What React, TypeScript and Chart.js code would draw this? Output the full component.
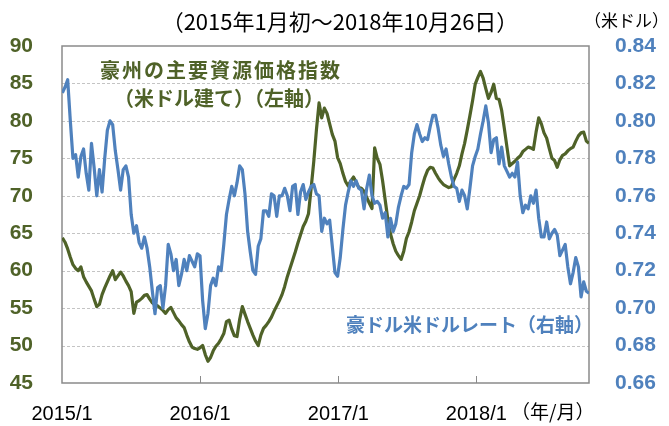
import React, { useEffect, useRef } from 'react';
import { Chart, registerables } from 'chart.js';

Chart.register(...registerables);

// ---- data ----
const firstDate = '2015-01-02'; // weekly observations (Fridays) up to 2018-10-26
const lastDate = '2018-10-26';
const axisStart = '2015-01-01';
const xTickYears = [2015, 2016, 2017, 2018];
const xTickLabels = ['2015/1', '2016/1', '2017/1', '2018/1'];

// Australian major commodity price index (USD), left axis
const resourceIndex = [
  64.4, 63.8, 62.9, 61.8, 60.8, 60.3, 60.0, 60.5, 59.2, 58.5,
  57.9, 57.3, 56.2, 55.2, 55.5, 56.8, 57.7, 58.5, 59.3, 60.0,
  58.8, 59.3, 59.8, 59.3, 58.6, 58.0, 57.2, 54.3, 55.8, 56.0,
  56.3, 56.7, 56.8, 56.2, 55.7, 55.4, 55.3, 55.0, 54.7, 54.3,
  54.8, 55.1, 54.4, 53.7, 53.3, 52.8, 52.4, 51.4, 50.5, 49.8,
  49.6, 49.5, 49.7, 50.0, 48.8, 47.9, 48.4, 49.3, 49.9, 50.3,
  50.9, 51.6, 53.2, 53.4, 52.2, 51.3, 51.2, 53.5, 55.2, 54.2,
  53.2, 52.3, 51.4, 50.6, 50.0, 51.4, 52.3, 52.7, 53.2, 53.8,
  54.6, 55.3, 56.0, 56.8, 57.9, 59.2, 60.3, 61.4, 62.5, 63.7,
  64.8, 65.9, 66.6, 67.6, 71.0, 74.6, 78.8, 82.4, 80.4, 81.7,
  81.0, 79.6, 78.2, 77.3, 75.1, 74.3, 73.0, 71.9, 71.3, 72.0,
  72.5, 71.8, 71.1, 71.0, 70.6, 69.8, 69.0, 68.3, 76.4, 75.0,
  74.2, 72.0, 69.4, 66.8, 64.9, 63.6, 62.6, 62.0, 61.5, 62.6,
  64.3, 65.2, 66.5, 68.0, 69.0, 70.0, 71.3, 72.5, 73.4, 73.8,
  73.7, 73.0, 72.4, 71.9, 71.5, 71.3, 71.1, 71.2, 72.2, 73.0,
  74.0, 75.6, 77.0, 78.8, 80.7, 82.7, 84.9, 85.8, 86.6, 85.7,
  84.3, 83.0, 83.8, 84.9, 83.0, 82.9, 81.4, 79.0, 76.5, 74.0,
  74.3, 74.6, 75.0, 75.3, 75.9, 76.2, 76.5, 76.4, 76.2, 78.5,
  80.4, 79.6, 78.4, 77.7, 76.3, 75.0, 74.7, 73.8, 74.8, 75.4,
  75.6, 76.0, 76.3, 76.5, 77.3, 78.0, 78.4, 78.5, 77.3, 77.0,
];

// AUD/USD rate, right axis
const audUsd = [
  0.815, 0.818, 0.822, 0.800, 0.780, 0.782, 0.770, 0.781, 0.785, 0.772,
  0.763, 0.788, 0.775, 0.760, 0.774, 0.762, 0.780, 0.795, 0.800, 0.798,
  0.784, 0.774, 0.763, 0.774, 0.776, 0.770, 0.750, 0.740, 0.744, 0.735,
  0.732, 0.738, 0.732, 0.722, 0.709, 0.697, 0.711, 0.712, 0.700, 0.712,
  0.734, 0.729, 0.720, 0.726, 0.712, 0.718, 0.726, 0.720, 0.728, 0.725,
  0.722, 0.729, 0.728, 0.704, 0.689, 0.697, 0.712, 0.716, 0.712, 0.722,
  0.720, 0.734, 0.750, 0.758, 0.765, 0.760, 0.767, 0.776, 0.774, 0.761,
  0.741, 0.730, 0.720, 0.718, 0.733, 0.737, 0.752, 0.752, 0.749, 0.761,
  0.760, 0.749, 0.760, 0.760, 0.764, 0.760, 0.752, 0.765, 0.766, 0.750,
  0.762, 0.766, 0.758, 0.762, 0.765, 0.766, 0.761, 0.760, 0.741, 0.748,
  0.745, 0.747, 0.733, 0.719, 0.717, 0.727, 0.742, 0.755, 0.762, 0.768,
  0.765, 0.768, 0.764, 0.763, 0.753, 0.764, 0.771, 0.760, 0.756, 0.757,
  0.755, 0.748, 0.751, 0.738, 0.748, 0.741, 0.745, 0.754, 0.760, 0.765,
  0.764, 0.766, 0.783, 0.793, 0.798, 0.793, 0.789, 0.791, 0.790, 0.797,
  0.803, 0.803, 0.796, 0.787, 0.781, 0.785, 0.777, 0.770, 0.765, 0.764,
  0.757, 0.763, 0.760, 0.753, 0.764, 0.776, 0.781, 0.785, 0.793, 0.800,
  0.808, 0.799, 0.783, 0.790, 0.791, 0.777, 0.786, 0.776, 0.773, 0.770,
  0.772, 0.770, 0.778, 0.760, 0.751, 0.755, 0.753, 0.760, 0.756, 0.763,
  0.748, 0.738, 0.738, 0.746, 0.737, 0.740, 0.742, 0.739, 0.728, 0.731,
  0.734, 0.722, 0.713, 0.719, 0.727, 0.722, 0.706, 0.714, 0.709, 0.708,
];

const titleText = '（2015年1月初～2018年10月26日）';
const rightUnitText = '（米ドル）';
const xUnitText = '（年/月）';
const greenLabel1 = '豪州の主要資源価格指数';
const greenLabel2 = '（米ドル建て）（左軸）';
const blueLabel = '豪ドル米ドルレート（右軸）';

const GREEN = '#4F6228';
const BLUE = '#4F81BD';
const CJK = '"Noto Sans CJK JP", "Noto Sans", sans-serif';
const NUM = '"Liberation Sans", Arial, sans-serif';

const DAY = 86400000;
const dayOf = (iso: string) => (Date.parse(iso + 'T00:00:00Z') - Date.parse(axisStart + 'T00:00:00Z')) / DAY;
const weekX = (i: number) => dayOf(firstDate) + 7 * i;
const tickDays = xTickYears.map((y) => dayOf(`${y}-01-01`));

const overlayPlugin = {
  id: 'overlay',
  beforeDatasetsDraw(chart: any) {
    const { ctx, chartArea: a, scales } = chart;
    ctx.save();
    // dashed horizontal gridlines from the left axis ticks
    ctx.strokeStyle = '#c4c4c4';
    ctx.lineWidth = 1;
    ctx.setLineDash([3, 2]);
    scales.yL.ticks.forEach((t: any) => {
      const py = Math.round(scales.yL.getPixelForValue(t.value)) + 0.5;
      if (py > a.top + 2 && py < a.bottom - 2) {
        ctx.beginPath();
        ctx.moveTo(a.left, py);
        ctx.lineTo(a.right, py);
        ctx.stroke();
      }
    });
    ctx.setLineDash([]);
    // plot frame
    ctx.strokeStyle = '#8a8a8a';
    ctx.lineWidth = 1.5;
    ctx.strokeRect(a.left, a.top, a.right - a.left, a.bottom - a.top);
    // inner tick marks on x axis
    ctx.lineWidth = 1;
    scales.x.ticks.forEach((t: any) => {
      const px = Math.round(scales.x.getPixelForValue(t.value)) + 0.5;
      if (px > a.left + 2 && px < a.right - 2) {
        ctx.beginPath();
        ctx.moveTo(px, a.bottom);
        ctx.lineTo(px, a.bottom - 7);
        ctx.stroke();
      }
    });
    ctx.restore();
  },
  afterDraw(chart: any) {
    const { ctx } = chart;
    ctx.save();
    ctx.textBaseline = 'middle';
    // title
    ctx.fillStyle = '#000';
    ctx.font = `22px ${CJK}`;
    ctx.textAlign = 'center';
    ctx.fillText(titleText, 340, 22);
    // right unit
    ctx.font = `17px ${CJK}`;
    ctx.textAlign = 'left';
    ctx.fillText(rightUnitText, 584, 21);
    // x unit
    ctx.font = `19px ${CJK}`;
    ctx.fillText(xUnitText, 511, 412);
    // green annotation
    ctx.fillStyle = GREEN;
    ctx.font = `bold 20px ${CJK}`;
    ctx.textAlign = 'center';
    (ctx as any).letterSpacing = '2px';
    ctx.fillText(greenLabel1, 221, 70);
    (ctx as any).letterSpacing = '0px';
    ctx.fillText(greenLabel2, 219, 98);
    // blue annotation
    ctx.fillStyle = BLUE;
    ctx.font = `bold 19px ${CJK}`;
    ctx.textAlign = 'left';
    ctx.fillText(blueLabel, 346, 325);
    ctx.restore();
  },
};

export default function App() {
  const ref = useRef<HTMLCanvasElement | null>(null);

  useEffect(() => {
    if (!ref.current) return;
    const chart = new Chart(ref.current, {
      type: 'line',
      data: {
        datasets: [
          {
            label: 'AUD/USD',
            data: audUsd.map((v, i) => ({ x: weekX(i), y: v })),
            yAxisID: 'yR',
            borderColor: BLUE,
            borderWidth: 3.2,
            pointRadius: 0,
            tension: 0,
            borderJoinStyle: 'round',
          },
          {
            label: 'Commodity index',
            data: resourceIndex.map((v, i) => ({ x: weekX(i), y: v })),
            yAxisID: 'yL',
            borderColor: GREEN,
            borderWidth: 3.2,
            pointRadius: 0,
            tension: 0,
            borderJoinStyle: 'round',
          },
        ],
      },
      options: {
        animation: false,
        responsive: false,
        layout: { padding: { top: 46, left: 0, right: 0, bottom: 0 } },
        plugins: { legend: { display: false }, tooltip: { enabled: false } },
        scales: {
          x: {
            type: 'linear',
            min: 0,
            max: dayOf(lastDate),
            afterBuildTicks: (s: any) => {
              s.ticks = tickDays.map((v) => ({ value: v }));
            },
            afterFit: (s: any) => {
              s.height = 43;
            },
            grid: { display: false, drawTicks: false },
            border: { display: false },
            ticks: {
              autoSkip: false,
              maxRotation: 0,
              padding: 19,
              color: '#000',
              font: { family: NUM, size: 20 },
              callback: (v: any) => {
                const i = tickDays.indexOf(Number(v));
                return i >= 0 ? xTickLabels[i] : '';
              },
            },
          },
          yL: {
            position: 'left',
            min: 45,
            max: 90,
            afterFit: (s: any) => {
              s.width = 62;
            },
            grid: { display: false, drawTicks: false },
            border: { display: false },
            ticks: {
              stepSize: 5,
              padding: 29,
              color: GREEN,
              font: { family: NUM, size: 21, weight: 'bold' },
            },
          },
          yR: {
            position: 'right',
            min: 0.66,
            max: 0.84,
            afterFit: (s: any) => {
              s.width = 80;
            },
            grid: { display: false, drawTicks: false },
            border: { display: false },
            ticks: {
              stepSize: 0.02,
              padding: 26,
              color: BLUE,
              font: { family: NUM, size: 21, weight: 'bold' },
              callback: (v: any) => Number(v).toFixed(2),
            },
          },
        },
      },
      plugins: [overlayPlugin],
    } as any);
    return () => chart.destroy();
  }, []);

  return (
    <div style={{ position: 'absolute', left: 0, top: 0, width: 669, height: 426, background: '#fff' }}>
      <canvas ref={ref} width={669} height={426} style={{ width: 669, height: 426, display: 'block' }} />
    </div>
  );
}
